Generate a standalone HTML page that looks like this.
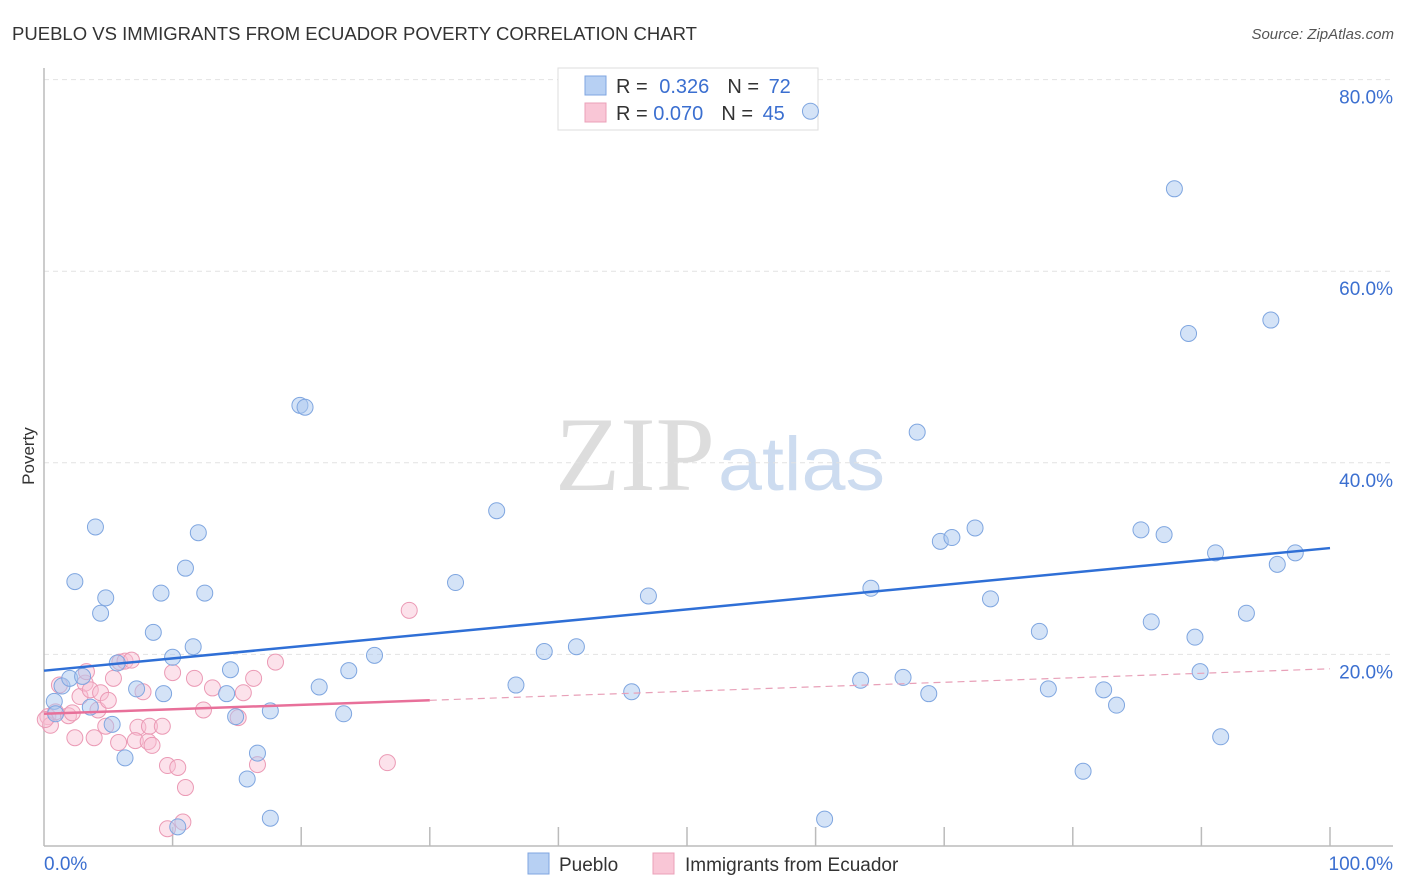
<!DOCTYPE html>
<html><head><meta charset="utf-8">
<style>
body{margin:0;background:#fff;font-family:"Liberation Sans",sans-serif;}
#wrap{position:relative;width:1406px;height:892px;overflow:hidden;}
</style></head>
<body>
<div id="wrap">
<svg id="chart" width="1406" height="892" xmlns="http://www.w3.org/2000/svg">
<text x="12" y="40" font-size="18" fill="#333" textLength="685" lengthAdjust="spacingAndGlyphs">PUEBLO VS IMMIGRANTS FROM ECUADOR POVERTY CORRELATION CHART</text>
<text x="1394" y="39" font-size="15" fill="#555" font-style="italic" text-anchor="end">Source: ZipAtlas.com</text>
<text x="34" y="456" font-size="17" fill="#333" transform="rotate(-90 34 456)" text-anchor="middle">Poverty</text>
<text x="555" y="490" font-size="106" fill="#ddd" font-family="Liberation Serif,serif" textLength="160" lengthAdjust="spacingAndGlyphs">ZIP</text>
<text x="718" y="490" font-size="76" fill="#cddcf0" textLength="167" lengthAdjust="spacingAndGlyphs">atlas</text>
<g id="grid"></g>
<g id="axes"></g>
<g>
<rect x="558" y="68" width="260" height="62" fill="#fff" stroke="#ddd"/>
<rect x="585" y="76" width="21" height="19" fill="#b7d0f3" stroke="#7fa6e0"/>
<rect x="585" y="103" width="21" height="19" fill="#f9c6d6" stroke="#eba0b8"/>
<text x="616" y="93" font-size="20" fill="#333">R = <tspan fill="#3b6fd0" dx="6">0.326</tspan><tspan dx="18" fill="#333">N = </tspan><tspan fill="#3b6fd0" dx="4">72</tspan></text>
<text x="616" y="120" font-size="20" fill="#333">R = <tspan fill="#3b6fd0" dx="0">0.070</tspan><tspan dx="18" fill="#333">N = </tspan><tspan fill="#3b6fd0" dx="4">45</tspan></text>
</g>
<g id="pts"></g>
<g id="lines"></g>
<g>
<rect x="528" y="853" width="21" height="21" fill="#b7d0f3" stroke="#7fa6e0"/>
<text x="559" y="871" font-size="19" fill="#333">Pueblo</text>
<rect x="653" y="853" width="21" height="21" fill="#f9c6d6" stroke="#eba0b8"/>
<text x="685" y="871" font-size="19" fill="#333">Immigrants from Ecuador</text>
</g>
</svg>
</div>
<script>
const blueX=[0.8,0.9,1.4,2.0,3.0,2.4,4.0,4.4,4.8,3.6,5.3,5.7,6.3,7.2,8.5,9.1,9.3,10.0,11.0,11.6,12.0,12.5,14.2,14.5,14.9,15.8,16.6,17.6,17.6,19.9,20.3,21.4,23.3,23.7,25.7,32.0,35.2,36.7,38.9,41.4,45.7,47.0,59.6,60.7,63.5,64.3,66.8,67.9,68.8,69.7,70.6,72.4,73.6,77.4,78.1,80.8,82.4,83.4,85.3,86.1,87.1,87.9,89.0,89.5,89.9,91.1,91.5,93.5,95.4,95.9,97.3,10.4];
const blueY=[15.1,13.8,16.7,17.5,17.7,27.6,33.3,24.3,25.9,14.5,12.7,19.1,9.2,16.4,22.3,26.4,15.9,19.7,29.0,20.8,32.7,26.4,15.9,18.4,13.5,7.0,9.7,14.1,2.9,46.0,45.8,16.6,13.8,18.3,19.9,27.5,35.0,16.8,20.3,20.8,16.1,26.1,76.7,2.8,17.3,26.9,17.6,43.2,15.9,31.8,32.2,33.2,25.8,22.4,16.4,7.8,16.3,14.7,33.0,23.4,32.5,68.6,53.5,21.8,18.2,30.6,11.4,24.3,54.9,29.4,30.6,2.0];
const pinkX=[0.3,0.5,0.9,1.2,1.9,2.2,2.4,2.8,3.2,3.3,3.6,3.9,4.2,4.4,4.8,5.0,5.4,5.8,5.9,6.3,6.8,7.7,7.3,7.1,8.1,8.4,8.2,9.2,9.6,10.0,10.4,10.8,11.0,9.6,11.7,12.4,13.1,15.1,15.5,16.3,16.6,18.0,26.7,28.4,0.1];
const pinkY=[13.5,12.6,14.0,16.8,13.6,13.9,11.3,15.6,17.0,18.2,16.3,11.3,14.2,16.0,12.5,15.2,17.5,10.8,19.2,19.3,19.4,16.1,12.4,11.0,10.9,10.5,12.5,12.5,8.4,18.1,8.2,2.5,6.1,1.8,17.5,14.2,16.5,13.4,16.0,17.5,8.5,19.2,8.7,24.6,13.2];
const blueTrend=[18.3,31.1];
const pinkTrend=[13.8,18.5];
const pinkSolidEnd=30;
const yTicks=[20,40,60,80];
const yTickLabels=["20.0%","40.0%","60.0%","80.0%"];
const xLabels=["0.0%","100.0%"];
const NS="http://www.w3.org/2000/svg";
const X=v=>44+v*12.86, Y=v=>846-v*9.58;
function mk(tag,attrs,parent){const e=document.createElementNS(NS,tag);for(const k in attrs)e.setAttribute(k,attrs[k]);parent.appendChild(e);return e;}
const grid=document.getElementById('grid'),axes=document.getElementById('axes'),pts=document.getElementById('pts'),lines=document.getElementById('lines');
yTicks.forEach((t,i)=>{
  const l=mk('line',{x1:44,x2:1393,y1:Y(t),y2:Y(t),stroke:'#e2e2e2','stroke-dasharray':'5,4'},grid);
  
  
  const tx=mk('text',{x:1393,y:Y(t)+24,'font-size':19,fill:'#3b6fd0','text-anchor':'end'},axes);
  tx.textContent=yTickLabels[i];
  
  
});
const ya=mk('line',{x1:44,x2:44,y1:68,y2:846,stroke:'#bbb','stroke-width':1.5},axes);


const xa=mk('line',{x1:44,x2:1393,y1:846,y2:846,stroke:'#bbb','stroke-width':1.5},axes);


for(let i=1;i<=10;i++){
  const tk=mk('line',{x1:X(i*10),x2:X(i*10),y1:827,y2:846,stroke:'#bbb','stroke-width':1.5},axes);
  
  
}
const xl0=mk('text',{x:44,y:870,'font-size':19,fill:'#3b6fd0'},axes);xl0.textContent=xLabels[0];


const xl1=mk('text',{x:1393,y:870,'font-size':19,fill:'#3b6fd0','text-anchor':'end'},axes);xl1.textContent=xLabels[1];


pinkX.forEach((x,i)=>{
  const c=mk('circle',{cx:X(x),cy:Y(pinkY[i]),r:8,fill:'rgba(249,190,210,0.45)',stroke:'#eb9ab5','stroke-width':1},pts);
  
  
});
blueX.forEach((x,i)=>{
  const c=mk('circle',{cx:X(x),cy:Y(blueY[i]),r:8,fill:'rgba(170,200,240,0.5)',stroke:'#7fa6e0','stroke-width':1},pts);
  
  
});
const bl=mk('line',{x1:X(0),y1:Y(blueTrend[0]),x2:X(100),y2:Y(blueTrend[1]),stroke:'#2f6fd6','stroke-width':2.5},lines);


const pm=pinkTrend[0]+(pinkTrend[1]-pinkTrend[0])*pinkSolidEnd/100;
const pl=mk('line',{x1:X(0),y1:Y(pinkTrend[0]),x2:X(pinkSolidEnd),y2:Y(pm),stroke:'#e8709a','stroke-width':2.5},lines);


const pd=mk('line',{x1:X(pinkSolidEnd),y1:Y(pm),x2:X(100),y2:Y(pinkTrend[1]),stroke:'#e8a0b8','stroke-width':1.2,'stroke-dasharray':'7,5'},lines);


</script>
</body></html>
